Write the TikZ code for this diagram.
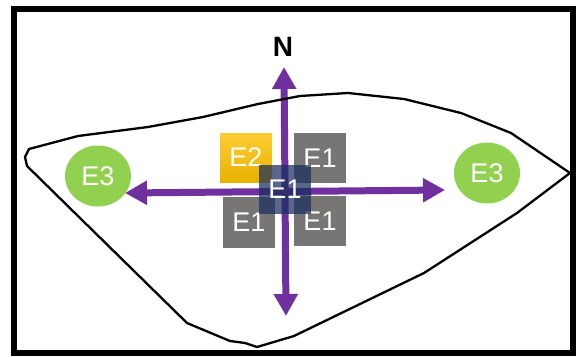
\documentclass[tikz,border=0pt]{standalone}
\usepackage{fontspec}
\setmainfont{Liberation Sans}
\usepackage{tikz}
\usetikzlibrary{shapes.geometric, arrows.meta}
\definecolor{arrowpurple}{RGB}{112, 48, 160}
\definecolor{zonegreen}{RGB}{146, 208, 80}
\definecolor{boxgray}{RGB}{120, 117, 117}
\definecolor{corenavy}{RGB}{25, 45, 95}
\definecolor{goldtop}{RGB}{255, 204, 51}
\definecolor{goldbot}{RGB}{232, 178, 0}
\tikzset{
  ebox/.style={minimum width=52pt, minimum height=50pt, inner sep=0pt, text=white, font=\fontsize{27}{30}\selectfont},
  oldbox/.style={ebox, fill=boxgray},
  newbox/.style={ebox, top color=goldtop, bottom color=goldbot},
  corebox/.style={ebox, fill=corenavy, fill opacity=0.72, text opacity=1},
  zonenode/.style={ellipse, fill=zonegreen, minimum width=66pt, minimum height=61pt, inner sep=0pt, text=white, font=\fontsize{27}{30}\selectfont},
  dirarrow/.style={-{Triangle[width=23pt,length=22pt]}, line width=7pt, arrowpurple},
}

\begin{document}
\begin{tikzpicture}[x=1pt, y=-1pt]
  \useasboundingbox (0,0) rectangle (578,356);
  % outer frame
  \draw[line width=5.5pt] (14,9) rectangle (573,353);
  % zones
  \node[zonenode] (wzone) at (98,176) {E3};
  \node[zonenode] (ezone) at (487,173) {E3};
  % compass cross
  \coordinate (ctr) at (285,191.5);
  \coordinate (ntip) at (284,67);
  \coordinate (stip) at (286,316);
  \coordinate (etip) at (445,190);
  \coordinate (wtip) at (125,193);
  \draw[dirarrow] (ctr) -- (ntip);
  \draw[dirarrow] (ctr) -- (stip);
  \draw[dirarrow] (ctr) -- (etip);
  \draw[dirarrow] (ctr) -- (wtip);
  \node[font=\fontsize{28}{30}\selectfont\bfseries] (north) at (283,47) {N};
  % outline
  \draw[line width=2.3pt, line join=round]
    (29,149) -- (25,157) -- (27,166) -- (187,323) -- (230,341) -- (245,343)
    -- (257,347) -- (294,336) -- (424,273) -- (517,213) -- (570,173)
    -- (511,133) -- (461,113) -- (404,99) -- (348,93) -- (300,96)
    -- (258,104) -- (203,117) -- (148,127) -- (78,136) -- cycle;
  % boxes
  \node[newbox, minimum height=49pt] (e2) at (246,157.5) {E2};
  \node[oldbox] (ne) at (320,158) {E1};
  \node[oldbox, minimum height=51pt] (sw) at (249,222.5) {E1};
  \node[oldbox] (se) at (320,221) {E1};
  \node[corebox, minimum height=49pt] (core) at (285,189.5) {E1};
\end{tikzpicture}
\end{document}
